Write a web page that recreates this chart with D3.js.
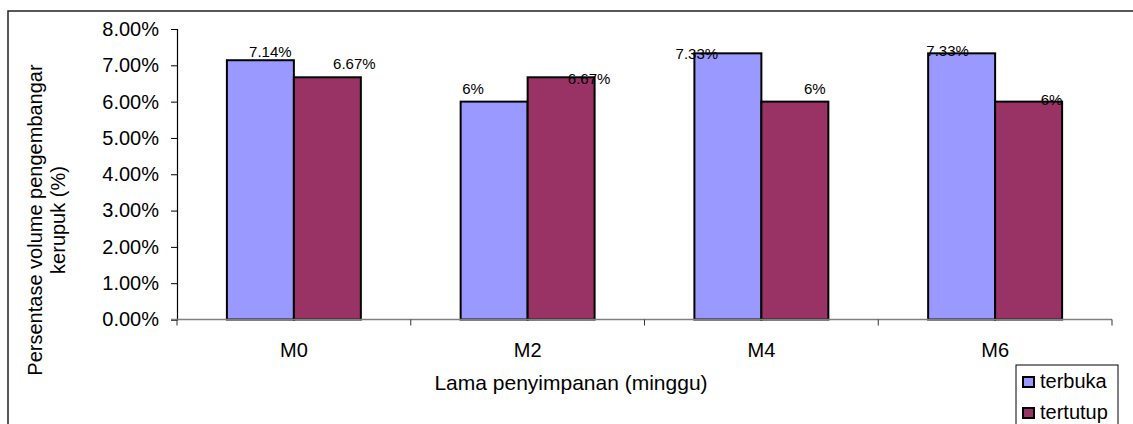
<!DOCTYPE html>
<html>
<head>
<meta charset="utf-8">
<script src="https://cdn.jsdelivr.net/npm/d3@7"></script>
<style>
  html, body { margin: 0; padding: 0; background: #fff; }
  svg { display: block; font-family: "Liberation Sans", Arial, sans-serif; }
</style>
</head>
<body>
<svg id="chart" width="1133" height="424"></svg>
<script>
// Storage weeks and the two packaging treatments
const categories = ["M0", "M2", "M4", "M6"];
const seriesNames = ["terbuka", "tertutup"];
const terbuka = [0.0714, 0.06, 0.0733, 0.0733];
const tertutup = [0.0667, 0.0667, 0.06, 0.06];
const labelsTerbuka = ["7.14%", "6%", "7.33%", "7.33%"];
const labelsTertutup = ["6.67%", "6.67%", "6%", "6%"];
const yTicks = [0, 0.01, 0.02, 0.03, 0.04, 0.05, 0.06, 0.07, 0.08];
const colors = { terbuka: "#9999FF", tertutup: "#993366" };

// Label nudges (dx from bar centre, dy of baseline from bar top)
const labelShift = {
  terbuka: [[10, -3], [-21, -8], [-31, 6], [-14, 3]],
  tertutup: [[27, -8], [28, 7], [20, -8], [23, 3]]
};

const svg = d3.select("#chart");
const plot = { left: 177, right: 1112, top: 29, bottom: 319.5 };

// Outer frame
svg.append("rect")
  .attr("x", 8).attr("y", 11)
  .attr("width", 1140).attr("height", 430)
  .attr("fill", "none").attr("stroke", "#222").attr("stroke-width", 1.5);

const x = d3.scaleBand().domain(categories).range([plot.left, plot.right]).padding(0);
const xs = d3.scaleBand().domain(seriesNames).range([0, x.bandwidth()])
  .paddingInner(0).paddingOuter(0.745);
const y = d3.scaleLinear().domain([0, 0.08]).range([plot.bottom, plot.top]);

// Y axis
const yAxis = svg.append("g")
  .attr("transform", `translate(${plot.left},0)`)
  .call(d3.axisLeft(y).tickValues(yTicks).tickFormat(d3.format(".2%")).tickSizeOuter(0).tickSize(6).tickPadding(12));
yAxis.select(".domain").attr("stroke", "#000").attr("stroke-width", 1.2);
yAxis.selectAll(".tick line").attr("stroke", "#000");
yAxis.selectAll(".tick text").attr("font-size", 20).attr("fill", "#000")
  .attr("font-family", "Liberation Sans, Arial, sans-serif");

// Bars
const rows = categories.map((c, i) => ({ cat: c, i, terbuka: terbuka[i], tertutup: tertutup[i] }));
const groups = svg.append("g").selectAll("g").data(rows).join("g")
  .attr("transform", d => `translate(${x(d.cat)},0)`);

groups.selectAll("rect").data(d => seriesNames.map(s => ({ s, v: d[s], i: d.i }))).join("rect")
  .attr("x", d => xs(d.s))
  .attr("y", d => y(d.v))
  .attr("width", xs.bandwidth())
  .attr("height", d => y(0) - y(d.v))
  .attr("fill", d => colors[d.s])
  .attr("stroke", "#000").attr("stroke-width", 2);

// X axis (drawn over bar bottoms)
const xAxis = svg.append("g")
  .attr("transform", `translate(0,${plot.bottom})`)
  .call(d3.axisBottom(x).tickSize(0).tickPadding(23));
xAxis.select(".domain").remove();
xAxis.selectAll(".tick text").attr("font-size", 20).attr("fill", "#000")
  .attr("font-family", "Liberation Sans, Arial, sans-serif");
svg.append("line")
  .attr("x1", plot.left - 6).attr("x2", plot.right)
  .attr("y1", plot.bottom).attr("y2", plot.bottom)
  .attr("stroke", "#7f7f7f").attr("stroke-width", 1.5);
const boundaries = categories.map(c => x(c)).concat([x.range()[1]]);
svg.append("g").selectAll("line").data(boundaries).join("line")
  .attr("x1", d => d).attr("x2", d => d)
  .attr("y1", plot.bottom).attr("y2", plot.bottom + 6)
  .attr("stroke", "#333").attr("stroke-width", 1);

// Value labels
groups.selectAll("text.val").data(d => seriesNames.map(s => ({ s, v: d[s], i: d.i }))).join("text")
  .attr("class", "val")
  .attr("x", d => xs(d.s) + xs.bandwidth() / 2 + labelShift[d.s][d.i][0])
  .attr("y", d => y(d.v) + labelShift[d.s][d.i][1])
  .attr("text-anchor", "middle")
  .attr("font-size", 15)
  .attr("fill", "#000")
  .text(d => (d.s === "terbuka" ? labelsTerbuka : labelsTertutup)[d.i]);

// Axis titles
svg.append("text")
  .attr("x", 571).attr("y", 390)
  .attr("text-anchor", "middle").attr("font-size", 21).attr("fill", "#000")
  .text("Lama penyimpanan (minggu)");

const yTitle = svg.append("text")
  .attr("transform", "translate(0,220) rotate(-90)")
  .attr("text-anchor", "middle").attr("font-size", 20).attr("fill", "#000");
yTitle.append("tspan").attr("x", 0).attr("y", 42).text("Persentase volume pengembangar");
yTitle.append("tspan").attr("x", 0).attr("y", 65).text("kerupuk (%)");

// Legend
const legend = svg.append("g");
legend.append("rect")
  .attr("x", 1016).attr("y", 365).attr("width", 102).attr("height", 80)
  .attr("fill", "#fff").attr("stroke", "#000").attr("stroke-width", 1);
seriesNames.forEach((s, i) => {
  const ly = 377 + i * 31;
  legend.append("rect")
    .attr("x", 1023).attr("y", ly).attr("width", 11).attr("height", 10)
    .attr("fill", colors[s]).attr("stroke", "#000").attr("stroke-width", 2);
  legend.append("text")
    .attr("x", 1040).attr("y", ly + 11)
    .attr("font-size", 20).attr("fill", "#000")
    .text(s);
});
</script>
</body>
</html>
